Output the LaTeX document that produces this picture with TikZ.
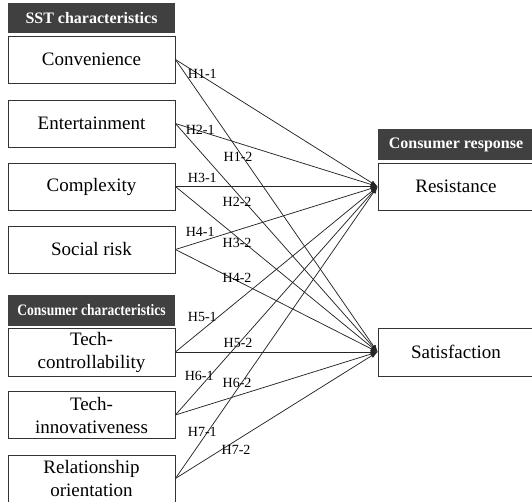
\documentclass[tikz,border=0pt]{standalone}
\usepackage{fontspec}
\usepackage{graphicx}
\setmainfont{Liberation Serif}
\usetikzlibrary{arrows.meta}

\tikzset{
  varbox/.style={draw=black!80, line width=0.8pt, minimum width=167pt, minimum height=47pt,
    align=center, inner sep=1pt, font=\fontsize{19}{23}\selectfont},
  headbox/.style={fill=black!75, text=white, minimum width=167pt, minimum height=30pt,
    inner sep=1pt, font=\fontsize{16}{18}\selectfont\bfseries},
  path/.style={draw=black!85, line width=0.75pt, -{Latex[length=7pt,width=5pt]}},
  hyp/.style={inner sep=0pt, font=\fontsize{14}{14}\selectfont}
}

\begin{document}
\begin{tikzpicture}[x=1pt, y=-1pt]
    \useasboundingbox (0,0) rectangle (532,502);
    % left side
    \node[headbox] (sst) at (91.5,18) {SST characteristics};
    \node[varbox] (conv) at (91.5,59.5) {Convenience};
    \node[varbox] (ent) at (91.5,123.5) {Entertainment};
    \node[varbox] (cplx) at (91.5,186.5) {Complexity};
    \node[varbox] (risk) at (91.5,249.5) {Social risk};
    \node[headbox, minimum height=31pt] (cons) at (91.5,310.5) {\scalebox{0.85}[1]{Consumer characteristics}};
    \node[varbox, minimum height=48pt] (ctrl) at (91.5,352) {Tech-\\controllability};
    \node[varbox] (innov) at (91.5,415) {Tech-\\innovativeness};
    \node[varbox] (rel) at (91.5,478.5) {Relationship\\orientation};
    % right side
    \node[headbox, minimum width=156pt, minimum height=31pt] (resp) at (456,144.5) {Consumer response};
    \node[varbox, minimum width=156pt] (res) at (456,186.5) {Resistance};
    \node[varbox, minimum width=156pt, minimum height=48pt] (sat) at (456,352) {Satisfaction};
    % hypotheses
    \draw[path] (conv.east) -- node[hyp, pos=.133, yshift=3pt] {H1-1} (res.west);
    \draw[path] (conv.east) -- node[hyp, pos=.31, yshift=-7pt] {H1-2} (sat.west);
    \draw[path] (ent.east) -- node[hyp, pos=.123, yshift=1pt] {H2-1} (res.west);
    \draw[path] (ent.east) -- node[hyp, pos=.305, yshift=-9pt] {H2-2} (sat.west);
    \draw[path] (cplx.east) -- node[hyp, pos=.133, yshift=8.5pt] {H3-1} (res.west);
    \draw[path] (cplx.east) -- node[hyp, pos=.305, yshift=-6pt] {H3-2} (sat.west);
    \draw[path] (risk.east) -- node[hyp, pos=.123, yshift=9.7pt] {H4-1} (res.west);
    \draw[path] (risk.east) -- node[hyp, pos=.305, yshift=2.8pt] {H4-2} (sat.west);
    \draw[path] (ctrl.east) -- node[hyp, pos=.133, yshift=13pt] {H5-1} (res.west);
    \draw[path] (ctrl.east) -- node[hyp, pos=.31, yshift=9pt] {H5-2} (sat.west);
    \draw[path] (innov.east) -- node[hyp, pos=.118, yshift=12pt] {H6-1} (res.west);
    \draw[path] (innov.east) -- node[hyp, pos=.305, yshift=12.8pt] {H6-2} (sat.west);
    \draw[path] (rel.east) -- node[hyp, pos=.133, yshift=7.7pt] {H7-1} (res.west);
    \draw[path] (rel.east) -- node[hyp, pos=.3, yshift=-9.5pt] {H7-2} (sat.west);
\end{tikzpicture}
\end{document}
